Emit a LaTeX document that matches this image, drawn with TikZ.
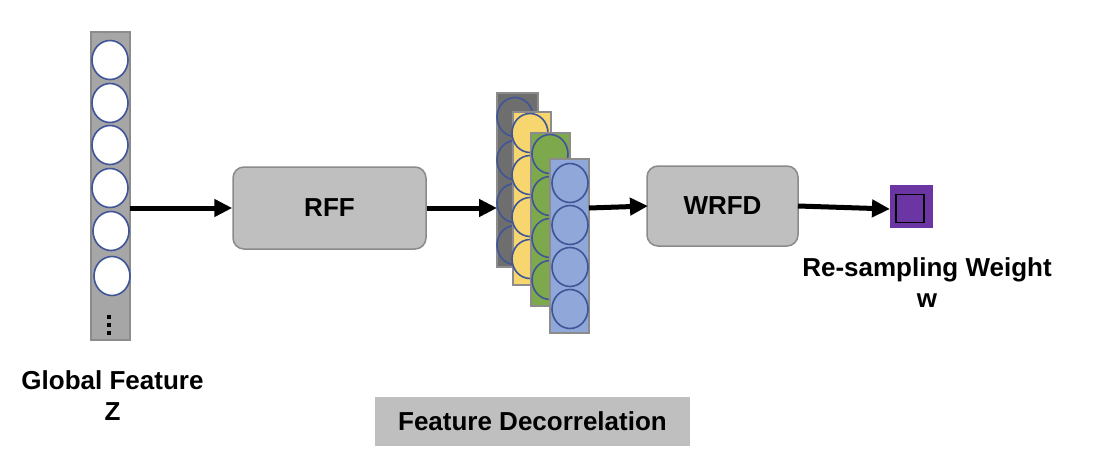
\documentclass[tikz,border=0pt]{standalone}
\usepackage{fontspec}
\setmainfont{Liberation Sans}
\usetikzlibrary{arrows.meta,shapes.geometric}
\definecolor{bargray}{HTML}{A6A6A6}
\definecolor{barline}{HTML}{8C8C8C}
\definecolor{circline}{HTML}{3F5597}
\definecolor{boxgray}{HTML}{BFBFBF}
\definecolor{boxline}{HTML}{8A8A8A}
\definecolor{dkgray}{HTML}{6E6E6E}
\definecolor{ylw}{HTML}{F7D66F}
\definecolor{grn}{HTML}{7DA84B}
\definecolor{blu}{HTML}{8FA7D9}
\definecolor{purp}{HTML}{6B35A3}
\begin{document}
\begin{tikzpicture}[x=1pt,y=-1pt,
  lbl/.style={font=\bfseries\fontsize{26}{31}\selectfont, align=center, inner sep=0pt},
  bar/.style={draw=barline, line width=1.8pt, inner sep=0pt, outer sep=0pt},
  ell/.style={ellipse, draw=circline, line width=1.6pt, inner sep=0pt, minimum width=36pt, minimum height=39pt},
  procbox/.style={draw=boxline, fill=boxgray, line width=1.5pt, rounded corners=11pt, inner sep=0pt,
     font=\bfseries\fontsize{26}{31}\selectfont},
  arr/.style={line width=5pt, -{Triangle[length=18pt,width=17pt]}},
  dotsq/.style={fill=black, inner sep=0pt, minimum size=3.2pt}
]
\useasboundingbox (0,0) rectangle (1104,466);

% Global feature bar
\node[bar, fill=bargray, minimum width=39pt, minimum height=308pt] (zbar) at (110.5,186) {};
\node[ell, fill=white] (z1) at (110,60) {};
\node[ell, fill=white] (z2) at (110,103) {};
\node[ell, fill=white] (z3) at (110,145) {};
\node[ell, fill=white] (z4) at (110,188) {};
\node[ell, fill=white] (z5) at (111,231) {};
\node[ell, fill=white] (z6) at (112,276) {};
\node[dotsq] (d1) at (109,317) {};
\node[dotsq] (d2) at (109,325) {};
\node[dotsq] (d3) at (109,333) {};

% RFF box
\node[procbox, minimum width=193pt, minimum height=82pt] (rff) at (329.5,208) {RFF};

% stacked feature layers
\node[bar, fill=dkgray, minimum width=41pt, minimum height=174pt] (l1) at (517.5,180) {};
\node[ell, fill=dkgray] (l1a) at (515,117) {};
\node[ell, fill=dkgray] (l1b) at (515,160) {};
\node[ell, fill=dkgray] (l1c) at (515,203) {};
\node[ell, fill=dkgray] (l1d) at (515,245) {};

\node[bar, fill=ylw, minimum width=38pt, minimum height=173pt] (l2) at (532,198.5) {};
\node[ell, fill=ylw] (l2a) at (530,133) {};
\node[ell, fill=ylw] (l2b) at (530,175) {};
\node[ell, fill=ylw] (l2c) at (530,217) {};
\node[ell, fill=ylw] (l2d) at (530,259) {};

\node[bar, fill=grn, minimum width=39pt, minimum height=173pt] (l3) at (550.5,219.5) {};
\node[ell, fill=grn] (l3a) at (550,154) {};
\node[ell, fill=grn] (l3b) at (550,196) {};
\node[ell, fill=grn] (l3c) at (550,238) {};
\node[ell, fill=grn] (l3d) at (550,280) {};

\node[bar, fill=blu, minimum width=39pt, minimum height=174pt] (l4) at (569.5,246) {};
\node[ell, fill=blu] (l4a) at (570,183) {};
\node[ell, fill=blu] (l4b) at (570,225) {};
\node[ell, fill=blu] (l4c) at (570,267) {};
\node[ell, fill=blu] (l4d) at (570,309) {};

% WRFD box
\node[procbox, minimum width=151pt, minimum height=80pt] (wrfd) at (722.5,206) {WRFD};

% weight square
\node[draw=none, fill=purp, minimum size=43pt, inner sep=0pt] (wsq) at (911.5,206.5) {};
\node[draw=black, line width=1.3pt, fill=purp, minimum size=28pt, inner sep=0pt] (wsqin) at (910,208.5) {};

% connectors
\coordinate (a1s) at (130,208);
\coordinate (a2e) at (497,208);
\coordinate (a3s) at (589,208);
\coordinate (a3e) at (648,206);
\coordinate (a4s) at (798,206);
\coordinate (a4e) at (890,209);
\draw[arr] (a1s) -- (rff.west);
\draw[arr] (rff.east) -- (a2e);
\draw[arr] (a3s) -- (a3e);
\draw[arr] (a4s) -- (a4e);

% labels (base anchor = baseline of last line)
\node[lbl, anchor=base] (gf) at (112.5,420) {Global Feature\\Z};
\node[lbl, anchor=base] (rw) at (927,307) {Re-sampling Weight\\w};
\node[fill=boxgray, minimum width=315pt, minimum height=49pt, inner sep=0pt,
  font=\bfseries\fontsize{26}{31}\selectfont] (fd) at (532.5,421.5) {Feature Decorrelation};
\end{tikzpicture}
\end{document}
